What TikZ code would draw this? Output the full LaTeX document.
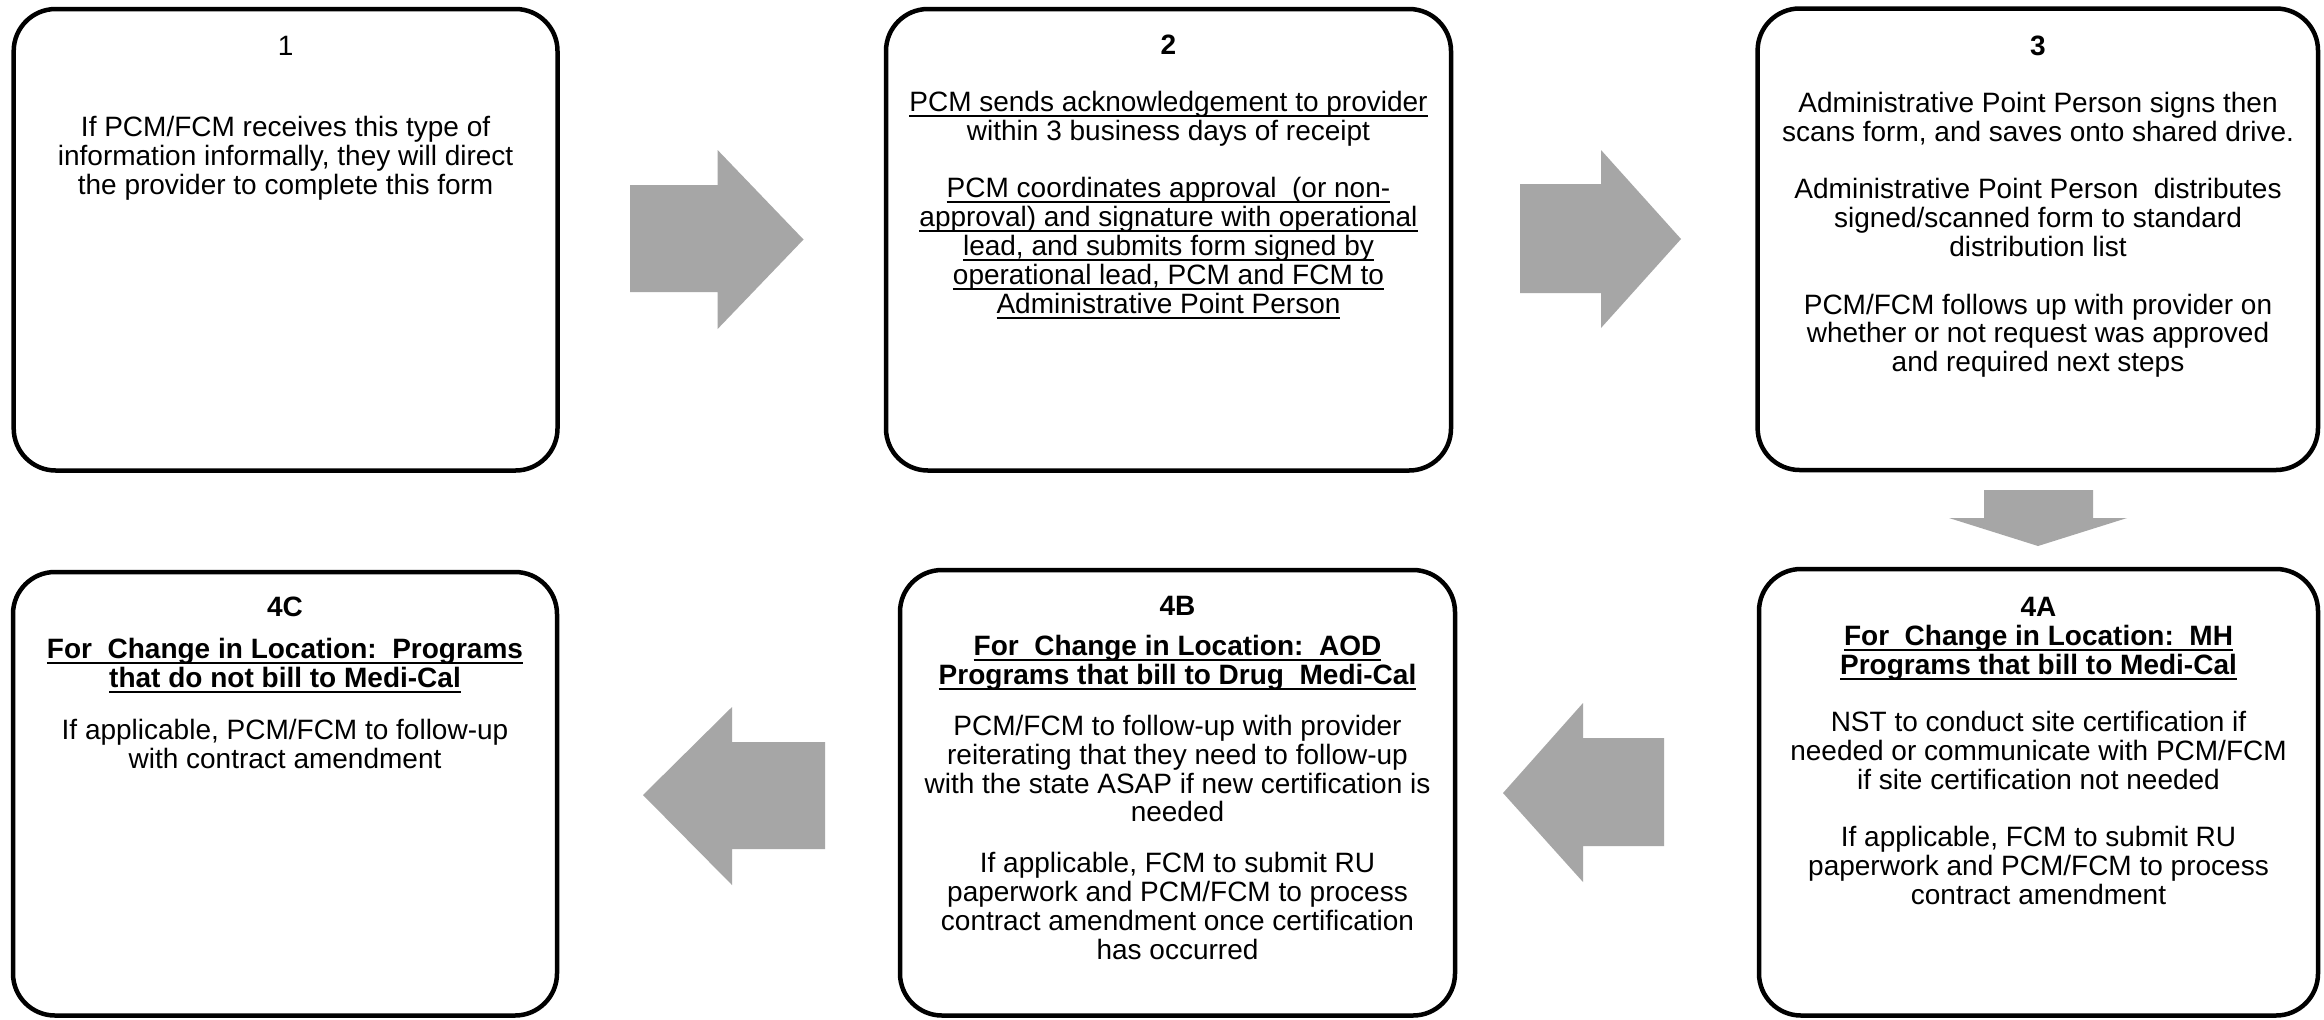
\documentclass[tikz,border=0pt]{standalone}
\usepackage{fontspec}
\setmainfont{Liberation Sans}
\definecolor{arrowgray}{RGB}{166,166,166}
\newcommand\undl[1]{\leavevmode\setbox0\hbox{#1}\rlap{\rule[-2.7pt]{\wd0}{1pt}}\box0}
\newcommand\bodytext[1]{\parbox[t]{268pt}{\centering\fontsize{14}{14.4}\selectfont #1}}
\begin{document}
\begin{tikzpicture}[x=0.5pt,y=-0.5pt,
  stepbox/.style={draw=black, line width=2.25pt, rounded corners=21pt, rectangle, inner sep=0pt},
  hdr/.style={anchor=base, inner sep=0pt, font=\fontsize{14}{14.4}\selectfont},
  txt/.style={anchor=base, inner sep=0pt},
  blockarrow/.style={fill=arrowgray, draw=none}]
\useasboundingbox (0,0) rectangle (2324,1019);
\fill[white] (0,0) rectangle (2324,1019);

% ---- boxes
\node[stepbox, minimum width=271.9pt, minimum height=230.75pt] (b1) at (285.6,239.75) {};
\node[stepbox, minimum width=282.5pt, minimum height=230.75pt] (b2) at (1168.5,239.75) {};
\node[stepbox, minimum width=280.2pt, minimum height=230.75pt] (b3) at (2037.8,239.25) {};
\node[stepbox, minimum width=272pt, minimum height=221.75pt] (b4c) at (285,793.75) {};
\node[stepbox, minimum width=277.5pt, minimum height=222.75pt] (b4b) at (1177.5,792.75) {};
\node[stepbox, minimum width=279.5pt, minimum height=223.25pt] (b4a) at (2038.5,792.25) {};

% ---- box 1
\node[hdr] (h1) at (285.6,55.5) {1};
\node[txt] (t1) at (285.6,136.5) {\bodytext{If PCM/FCM receives this type of\\
information informally, they will direct\\
the provider to complete this form}};

% ---- box 2
\node[hdr] (h2) at (1168.5,54.5) {\textbf{2}};
\node[txt] (t2) at (1168.5,111.5) {\bodytext{\undl{PCM sends acknowledgement to provider}\\
within 3 business days of receipt\\[14.4pt]
\undl{PCM coordinates approval\ \ (or non-}\\
\undl{approval) and signature with operational}\\
\undl{lead, and submits form signed by}\\
\undl{operational lead, PCM and FCM to}\\
\undl{Administrative Point Person}}};

% ---- box 3
\node[hdr] (h3) at (2038,55.5) {\textbf{3}};
\node[txt] (t3) at (2038,112.5) {\bodytext{Administrative Point Person signs then\\
scans form, and saves onto shared drive.\\[14.4pt]
Administrative Point Person\ \ distributes\\
signed/scanned form to standard\\
distribution list\\[14.4pt]
PCM/FCM follows up with provider on\\
whether or not request was approved\\
and required next steps}};

% ---- box 4A
\node[txt] (t4a) at (2038.5,616.5) {\bodytext{\textbf{4A}\\
\undl{\textbf{For\ \ Change in Location:\ \ MH}}\\
\undl{\textbf{Programs that bill to Medi-Cal}}\\[14.4pt]
NST to conduct site certification if\\
needed or communicate with PCM/FCM\\
if site certification not needed\\[14.4pt]
If applicable, FCM to submit RU\\
paperwork and PCM/FCM to process\\
contract amendment}};

% ---- box 4B
\node[txt] (t4b) at (1177.5,615) {\bodytext{\textbf{4B}\\[6pt]
\undl{\textbf{For\ \ Change in Location:\ \ AOD}}\\
\undl{\textbf{Programs that bill to Drug\ \ Medi-Cal}}\\[11pt]
PCM/FCM to follow-up with provider\\
reiterating that they need to follow-up\\
with the state ASAP if new certification is\\
needed\\[11pt]
If applicable, FCM to submit RU\\
paperwork and PCM/FCM to process\\
contract amendment once certification\\
has occurred}};

% ---- box 4C
\node[txt] (t4c) at (285,616.5) {\bodytext{\textbf{4C}\\[6.5pt]
\undl{\textbf{For\ \ Change in Location:\ \ Programs}}\\
\undl{\textbf{that do not bill to Medi-Cal}}\\[12pt]
If applicable, PCM/FCM to follow-up\\
with contract amendment}};

% ---- block arrows
\fill[blockarrow] (630,185) -- (717.6,185) -- (717.6,150) -- (803.5,239.5) -- (717.6,329) -- (717.6,292) -- (630,292) -- cycle;
\fill[blockarrow] (1520,184) -- (1601,184) -- (1601,150) -- (1681,239) -- (1601,328) -- (1601,293) -- (1520,293) -- cycle;
\fill[blockarrow] (1984,490) -- (2093,490) -- (2093,518) -- (2127,518) -- (2038,546) -- (1949,518) -- (1984,518) -- cycle;
\fill[blockarrow] (1664,738) -- (1583,738) -- (1583,703) -- (1503,793) -- (1583,882) -- (1583,846) -- (1664,846) -- cycle;
\fill[blockarrow] (825,742) -- (732,742) -- (732,707) -- (643,795) -- (732,885) -- (732,849) -- (825,849) -- cycle;
\end{tikzpicture}
\end{document}
